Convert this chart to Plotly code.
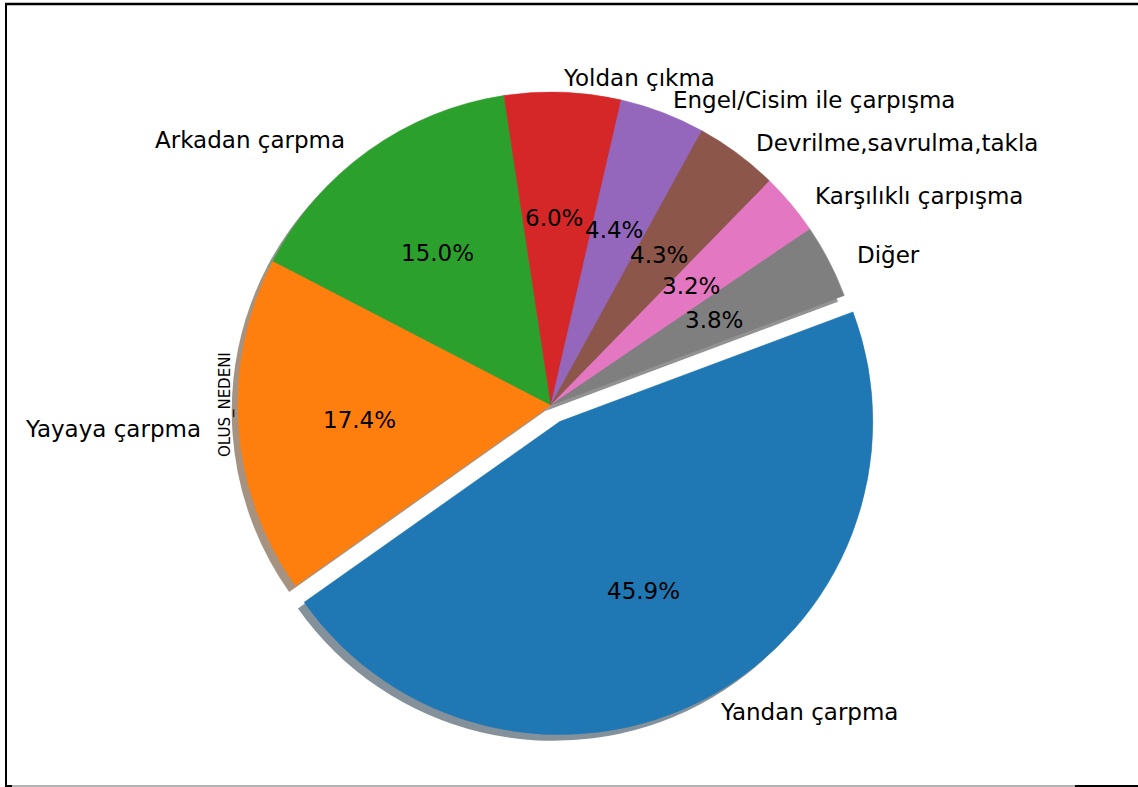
import math
import plotly.graph_objects as go

# Accident cause shares (%), in drawing order (clockwise)
causes = [
    "Yandan çarpma",
    "Yayaya çarpma",
    "Arkadan çarpma",
    "Yoldan çıkma",
    "Engel/Cisim ile çarpışma",
    "Devrilme,savrulma,takla",
    "Karşılıklı çarpışma",
    "Diğer",
]
shares = [45.9, 17.4, 15.0, 6.0, 4.4, 4.3, 3.2, 3.8]
explode = [0.06, 0, 0, 0, 0, 0, 0, 0]
colors = ["#1f77b4", "#ff7f0e", "#2ca02c", "#d62728",
          "#9467bd", "#8c564b", "#e377c2", "#7f7f7f"]
axis_label = "OLUS_NEDENI"

W, H = 1138, 787
CX, CY = 551, 405          # pie centre, px
R = 313                    # pie radius, px
START = 20.5               # start angle of first wedge (deg, counter-clockwise from 3 o'clock)

# text layout (centre and radii in px)
LAB_CX, LAB_CY, LAB_RX, LAB_RY, LAB_DIST = 548, 406, 314, 298, 1.1
PCT_CX, PCT_CY, PCT_RX, PCT_RY, PCT_DIST = 547, 407, 314, 315, 0.6

FONT = "DejaVu Sans"
FS = 23


def px(x):
    return x / W


def py(y):
    return 1 - y / H


def hex_rgb(h):
    h = h.lstrip("#")
    return tuple(int(h[i:i + 2], 16) for i in (0, 2, 4))


pull = max(explode)
half = R * (1 + pull)
dom_x = [px(CX - half), px(CX + half)]
dom_y = [py(CY + half), py(CY - half)]

# shadow copy, shifted left/down
sh = 0.02 * R
shadow_cols = ["rgba(%d,%d,%d,0.5)" % tuple(int(0.3 * c) for c in hex_rgb(col)) for col in colors]

fig = go.Figure()
fig.add_trace(go.Pie(
    labels=causes, values=shares, sort=False, direction="clockwise",
    rotation=90 - START, pull=explode,
    marker=dict(colors=shadow_cols, line=dict(width=0)),
    textinfo="none", hoverinfo="skip", showlegend=False,
    domain=dict(x=[px(CX - half - sh), px(CX + half - sh)],
                y=[py(CY + half + sh), py(CY - half + sh)]),
))
fig.add_trace(go.Pie(
    labels=causes, values=shares, sort=False, direction="clockwise",
    rotation=90 - START, pull=explode,
    marker=dict(colors=colors, line=dict(width=0.6, color=colors)),
    textinfo="none", showlegend=False,
    domain=dict(x=dom_x, y=dom_y),
))

# labels and percentages along each wedge bisector
total = sum(shares)
cum = 0.0
annotations = []
for name, v, e in zip(causes, shares, explode):
    a0 = START - 360 * cum / total
    a1 = a0 - 360 * v / total
    cum += v
    m = math.radians((a0 + a1) / 2)
    c, s = math.cos(m), math.sin(m)
    lx = LAB_CX + (LAB_DIST + e) * LAB_RX * c
    ly = LAB_CY - (LAB_DIST + e) * LAB_RY * s
    annotations.append(dict(
        x=px(lx), y=py(ly), xref="paper", yref="paper", text=name,
        showarrow=False, xanchor="left" if c > 0 else "right", yanchor="middle",
        font=dict(family=FONT, size=FS, color="black"),
    ))
    tx = PCT_CX + (PCT_DIST + e) * PCT_RX * c
    ty = PCT_CY - (PCT_DIST + e) * PCT_RY * s
    annotations.append(dict(
        x=px(tx), y=py(ty), xref="paper", yref="paper", text="%.1f%%" % v,
        showarrow=False, xanchor="center", yanchor="middle",
        font=dict(family=FONT, size=FS, color="black"),
    ))

annotations.append(dict(
    x=px(225), y=py(405), xref="paper", yref="paper", text=axis_label,
    showarrow=False, textangle=-90, xanchor="center", yanchor="middle",
    font=dict(family=FONT, size=15, color="black"),
))

# image frame
shapes = [
    dict(type="line", xref="paper", yref="paper", x0=px(5), x1=1, y0=py(4), y1=py(4),
         line=dict(color="black", width=2.5)),
    dict(type="line", xref="paper", yref="paper", x0=px(6), x1=px(6), y0=py(3), y1=0,
         line=dict(color="black", width=2)),
    dict(type="line", xref="paper", yref="paper", x0=px(5), x1=px(12), y0=py(786), y1=py(786),
         line=dict(color="black", width=2)),
    dict(type="line", xref="paper", yref="paper", x0=px(12), x1=px(1075), y0=py(786), y1=py(786),
         line=dict(color="#b4b4b4", width=2)),
    dict(type="line", xref="paper", yref="paper", x0=px(1075), x1=1, y0=py(786), y1=py(786),
         line=dict(color="black", width=2)),
]

fig.update_layout(
    width=W, height=H, margin=dict(l=0, r=0, t=0, b=0),
    paper_bgcolor="white", plot_bgcolor="white",
    showlegend=False, annotations=annotations, shapes=shapes,
)

fig.write_html("out.html")
